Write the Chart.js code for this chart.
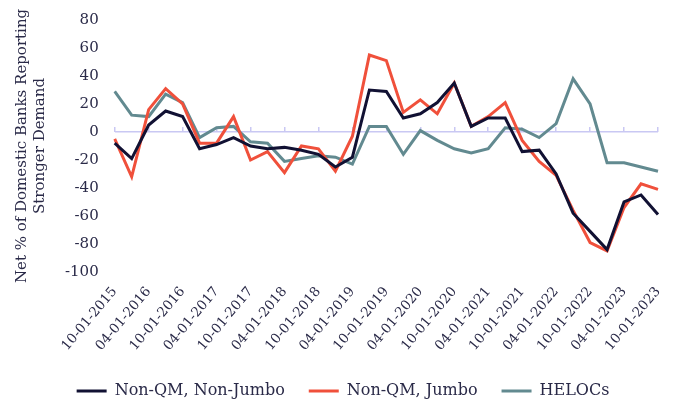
<!DOCTYPE html>
<html>
<head>
<meta charset="utf-8">
<title>Net % of Domestic Banks Reporting Stronger Demand</title>
<script src="https://cdn.jsdelivr.net/npm/chart.js@4.4.1/dist/chart.umd.min.js"></script>
<style>
	body { margin: 0; background: #fff; }
	#wrap { width: 673px; height: 400px; position: relative; }
</style>
</head>
<body>
<div id="wrap"><canvas id="demandChart"></canvas></div>
<script>
/* Quarterly survey dates */
var quarters = [
	'10-01-2015', '01-01-2016', '04-01-2016', '07-01-2016', '10-01-2016',
	'01-01-2017', '04-01-2017', '07-01-2017', '10-01-2017', '01-01-2018',
	'04-01-2018', '07-01-2018', '10-01-2018', '01-01-2019', '04-01-2019',
	'07-01-2019', '10-01-2019', '01-01-2020', '04-01-2020', '07-01-2020',
	'10-01-2020', '01-01-2021', '04-01-2021', '07-01-2021', '10-01-2021',
	'01-01-2022', '04-01-2022', '07-01-2022', '10-01-2022', '01-01-2023',
	'04-01-2023', '07-01-2023', '10-01-2023'
];

/* Net % of banks reporting stronger demand */
var nonQmNonJumbo = [
	-8, -19, 5, 15, 11, -12, -9, -4, -10, -12,
	-11, -13, -16, -25, -18, 30, 29, 10, 13, 21,
	35, 4, 10, 10, -14, -13, -30, -58, -71, -84,
	-50, -45, -59
];
var nonQmJumbo = [
	-5, -32, 16, 31, 20, -8, -8, 11, -20, -14,
	-29, -10, -12, -28, -3, 55, 51, 14, 23, 13,
	35, 4, 11, 21, -6, -21, -31, -56, -79, -85,
	-54, -37, -41
];
var helocs = [
	29, 12, 11, 27, 21, -4, 3, 4, -7, -8,
	-21, -19, -17, -18, -23, 4, 4, -16, 1, -6,
	-12, -15, -12, 3, 2, -4, 6, 38, 20, -22,
	-22, -25, -28
];

var yTicks = [-100, -80, -60, -40, -20, 0, 20, 40, 60, 80];

const serif = '"DejaVu Serif", "Liberation Serif", serif';
const textColor = '#2a2a48';
const zeroColor = '#c9c8f3';

/**
 * Builds one line dataset.
 */
function lineSet(label, values, color) {
	return {
		label: label,
		data: values,
		borderColor: color,
		backgroundColor: color,
		borderWidth: 3,
		pointRadius: 0,
		tension: 0,
		fill: false
	};
}

function drawChart(chartID) {
	const ctx = document.getElementById(chartID).getContext('2d');

	let chart1 = new Chart(ctx, {
		type: 'line',
		data: {
			labels: quarters,
			datasets: [
				lineSet('Non-QM, Non-Jumbo', nonQmNonJumbo, '#111133'),
				lineSet('Non-QM, Jumbo', nonQmJumbo, '#f0503b'),
				lineSet('HELOCs', helocs, '#628a90')
			]
		},
		options: {
			responsive: true,
			maintainAspectRatio: false,
			animation: false,
			layout: {
				padding: { left: 13, right: 0, top: 20, bottom: -9 }
			},
			plugins: {
				title: { display: false },
				tooltip: { enabled: false },
				legend: {
					display: true,
					position: 'bottom',
					labels: {
						usePointStyle: true,
						pointStyle: 'line',
						pointStyleWidth: 30,
						boxHeight: 16,
						padding: 24,
						color: textColor,
						font: { family: serif, size: 16 }
					}
				}
			},
			scales: {
				x: {
					type: 'category',
					offset: false,
					grid: { display: false, drawTicks: false },
					border: { display: false },
					/* let the rotated labels reach into the legend's top padding,
					   and keep less room on the right than the labels ask for */
					afterFit: function(axis) {
						axis.height -= 7;
						axis.paddingRight = 15;
					},
					ticks: {
						autoSkip: false,
						minRotation: 50,
						maxRotation: 50,
						padding: 12,
						color: textColor,
						font: { family: serif, size: 13.5 },
						callback: function(value, index) {
							return index % 2 === 0 ? quarters[index] : null;
						}
					}
				},
				/* decorative axis that sits on the zero line, for its tick marks */
				xZero: {
					type: 'category',
					labels: quarters,
					offset: false,
					position: { y: 0 },
					grid: {
						drawOnChartArea: false,
						drawTicks: true,
						tickLength: -5,
						lineWidth: 1.5,
						color: function(c) {
							return c.index % 2 === 0 ? zeroColor : 'rgba(0,0,0,0)';
						}
					},
					border: { display: false },
					ticks: { display: false }
				},
				y: {
					min: -100,
					max: 80,
					afterBuildTicks: function(axis) {
						axis.ticks = yTicks.map(function(v) { return { value: v }; });
					},
					afterFit: function(axis) {
						axis.paddingTop = 0;
						axis.paddingBottom = 0;
					},
					grid: {
						drawTicks: false,
						lineWidth: 1.5,
						color: function(c) {
							return c.tick && c.tick.value === 0 ? zeroColor : 'rgba(0,0,0,0)';
						}
					},
					border: { display: false },
					ticks: {
						padding: 16,
						color: textColor,
						font: { family: serif, size: 15 }
					},
					title: {
						display: true,
						text: ['Net % of Domestic Banks Reporting', 'Stronger Demand'],
						color: textColor,
						padding: { top: 0, bottom: 0 },
						font: { family: serif, size: 15, lineHeight: 1.2 }
					}
				}
			}
		}
	});
}

drawChart('demandChart');
</script>
</body>
</html>
